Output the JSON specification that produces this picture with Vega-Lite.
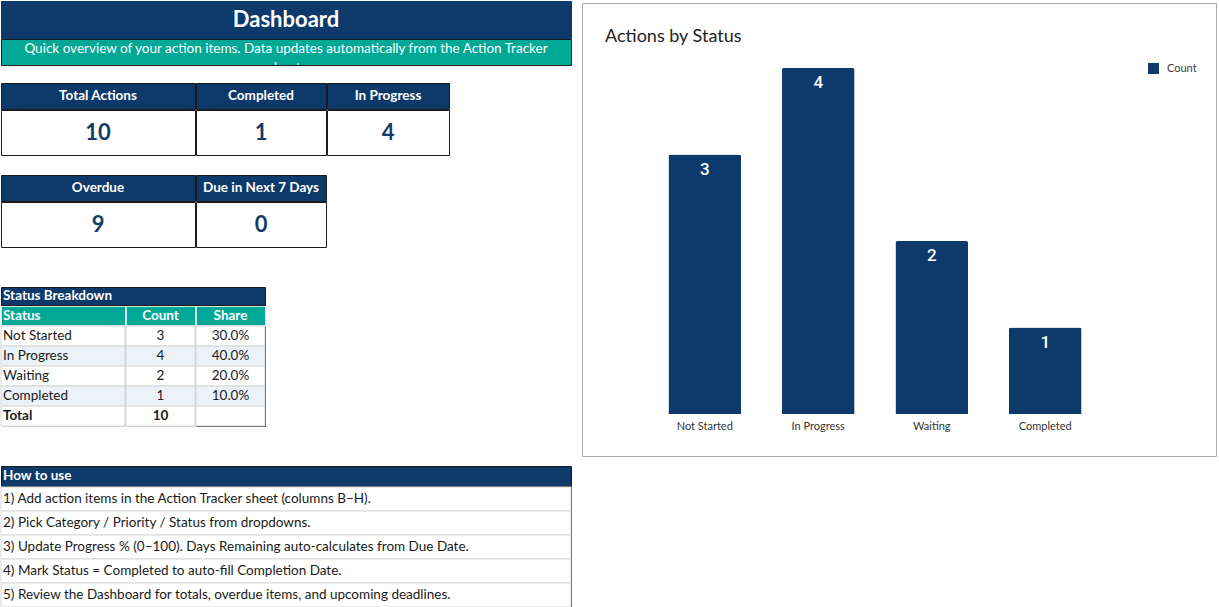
{
  "$schema": "https://vega.github.io/schema/vega-lite/v6.json",
  "padding": 0,
  "background": "white",
  "config": {"font": "Lato", "view": {"stroke": "transparent"}, "text": {"font": "Lato"}},
  "datasets": {
    "banner": [{"title": "Dashboard", "subtitle": "Quick overview of your action items. Data updates automatically from the Action Tracker\nsheet."}],
    "kpi": [
      {"metric": "Total Actions", "value": 10},
      {"metric": "Completed", "value": 1},
      {"metric": "In Progress", "value": 4},
      {"metric": "Overdue", "value": 9},
      {"metric": "Due in Next 7 Days", "value": 0}
    ],
    "breakdown": [
      {"section": "Status Breakdown", "status": "Not Started", "count": 3, "share": 0.3},
      {"section": "Status Breakdown", "status": "In Progress", "count": 4, "share": 0.4},
      {"section": "Status Breakdown", "status": "Waiting", "count": 2, "share": 0.2},
      {"section": "Status Breakdown", "status": "Completed", "count": 1, "share": 0.1},
      {"section": "Status Breakdown", "status": "Total", "count": 10, "share": null}
    ],
    "columns": [{"column": "Status"}, {"column": "Count"}, {"column": "Share"}],
    "howto": [
      {"section": "How to use", "step": "1) Add action items in the Action Tracker sheet (columns B–H)."},
      {"section": "How to use", "step": "2) Pick Category / Priority / Status from dropdowns."},
      {"section": "How to use", "step": "3) Update Progress % (0–100). Days Remaining auto-calculates from Due Date."},
      {"section": "How to use", "step": "4) Mark Status = Completed to auto-fill Completion Date."},
      {"section": "How to use", "step": "5) Review the Dashboard for totals, overdue items, and upcoming deadlines."}
    ],
    "charttitle": [{"title": "Actions by Status"}]
  },
  "spacing": 9,
  "hconcat": [
    {
      "spacing": -2,
      "vconcat": [
        {"width": 570, "height": 37, "view": {"fill": "#0E3A6B", "stroke": "#0E3A6B"}, "data": {"name": "banner"},
         "mark": {"type": "text", "color": "white", "fontSize": 22, "fontWeight": "bold"},
         "encoding": {"text": {"field": "title", "type": "nominal"}}},
        {"width": 570, "height": 26, "view": {"fill": "#00A896", "stroke": "#1a1a1a"}, "data": {"name": "banner"},
         "mark": {"type": "text", "color": "white", "fontSize": 13.5, "lineBreak": "\n", "lineHeight": 19, "dy": -3, "clip": true},
         "encoding": {"text": {"field": "subtitle", "type": "nominal"}}},
        {"width": 570, "height": 17, "data": {"values": []}, "mark": "text"},
        {"spacing": -2, "hconcat": [
          {"width": 194, "height": 26, "view": {"fill": "#0E3A6B", "stroke": "#1a1a1a"}, "data": {"name": "kpi"}, "transform": [{"filter": {"field": "metric", "equal": "Total Actions"}}],
           "mark": {"type": "text", "color": "white", "fontSize": 13.5, "fontWeight": "bold"}, "encoding": {"text": {"field": "metric", "type": "nominal"}}},
          {"width": 130, "height": 26, "view": {"fill": "#0E3A6B", "stroke": "#1a1a1a"}, "data": {"name": "kpi"}, "transform": [{"filter": {"field": "metric", "equal": "Completed"}}],
           "mark": {"type": "text", "color": "white", "fontSize": 13.5, "fontWeight": "bold"}, "encoding": {"text": {"field": "metric", "type": "nominal"}}},
          {"width": 122, "height": 26, "view": {"fill": "#0E3A6B", "stroke": "#1a1a1a"}, "data": {"name": "kpi"}, "transform": [{"filter": {"field": "metric", "equal": "In Progress"}}],
           "mark": {"type": "text", "color": "white", "fontSize": 13.5, "fontWeight": "bold"}, "encoding": {"text": {"field": "metric", "type": "nominal"}}}
        ]},
        {"spacing": -2, "hconcat": [
          {"width": 194, "height": 45, "view": {"fill": "white", "stroke": "#1a1a1a"}, "data": {"name": "kpi"}, "transform": [{"filter": {"field": "metric", "equal": "Total Actions"}}],
           "mark": {"type": "text", "color": "#143C68", "fontSize": 22, "fontWeight": "bold"}, "encoding": {"text": {"field": "value", "type": "quantitative"}}},
          {"width": 130, "height": 45, "view": {"fill": "white", "stroke": "#1a1a1a"}, "data": {"name": "kpi"}, "transform": [{"filter": {"field": "metric", "equal": "Completed"}}],
           "mark": {"type": "text", "color": "#143C68", "fontSize": 22, "fontWeight": "bold"}, "encoding": {"text": {"field": "value", "type": "quantitative"}}},
          {"width": 122, "height": 45, "view": {"fill": "white", "stroke": "#1a1a1a"}, "data": {"name": "kpi"}, "transform": [{"filter": {"field": "metric", "equal": "In Progress"}}],
           "mark": {"type": "text", "color": "#143C68", "fontSize": 22, "fontWeight": "bold"}, "encoding": {"text": {"field": "value", "type": "quantitative"}}}
        ]},
        {"width": 570, "height": 19, "data": {"values": []}, "mark": "text"},
        {"spacing": -2, "hconcat": [
          {"width": 194, "height": 26, "view": {"fill": "#0E3A6B", "stroke": "#1a1a1a"}, "data": {"name": "kpi"}, "transform": [{"filter": {"field": "metric", "equal": "Overdue"}}],
           "mark": {"type": "text", "color": "white", "fontSize": 13.5, "fontWeight": "bold"}, "encoding": {"text": {"field": "metric", "type": "nominal"}}},
          {"width": 130, "height": 26, "view": {"fill": "#0E3A6B", "stroke": "#1a1a1a"}, "data": {"name": "kpi"}, "transform": [{"filter": {"field": "metric", "equal": "Due in Next 7 Days"}}],
           "mark": {"type": "text", "color": "white", "fontSize": 13.5, "fontWeight": "bold"}, "encoding": {"text": {"field": "metric", "type": "nominal"}}}
        ]},
        {"spacing": -2, "hconcat": [
          {"width": 194, "height": 45, "view": {"fill": "white", "stroke": "#1a1a1a"}, "data": {"name": "kpi"}, "transform": [{"filter": {"field": "metric", "equal": "Overdue"}}],
           "mark": {"type": "text", "color": "#143C68", "fontSize": 22, "fontWeight": "bold"}, "encoding": {"text": {"field": "value", "type": "quantitative"}}},
          {"width": 130, "height": 45, "view": {"fill": "white", "stroke": "#1a1a1a"}, "data": {"name": "kpi"}, "transform": [{"filter": {"field": "metric", "equal": "Due in Next 7 Days"}}],
           "mark": {"type": "text", "color": "#143C68", "fontSize": 22, "fontWeight": "bold"}, "encoding": {"text": {"field": "value", "type": "quantitative"}}}
        ]},
        {"width": 570, "height": 39, "data": {"values": []}, "mark": "text"},
        {"width": 264, "height": 18, "view": {"fill": "#0E3A6B", "stroke": "#1a1a1a"}, "data": {"name": "breakdown"},
         "transform": [{"aggregate": [], "groupby": ["section"]}],
         "mark": {"type": "text", "align": "left", "dx": 2, "color": "white", "fontSize": 13.5, "fontWeight": "bold"},
         "encoding": {"text": {"field": "section", "type": "nominal"},
                      "x": {"field": "section", "type": "nominal", "bandPosition": 0, "axis": null, "scale": {"type": "band", "paddingInner": 0, "paddingOuter": 0}}}},
        {"spacing": -2, "hconcat": [
          {"width": 124, "height": 19, "view": {"fill": "#00A896", "stroke": "#cfe9e6"}, "data": {"name": "columns"}, "transform": [{"filter": {"field": "column", "equal": "Status"}}],
           "mark": {"type": "text", "align": "left", "dx": 2, "color": "white", "fontSize": 13.5, "fontWeight": "bold"},
           "encoding": {"text": {"field": "column", "type": "nominal"},
                        "x": {"field": "column", "type": "nominal", "bandPosition": 0, "axis": null, "scale": {"type": "band", "paddingInner": 0, "paddingOuter": 0}}}},
          {"width": 69, "height": 19, "view": {"fill": "#00A896", "stroke": "#cfe9e6"}, "data": {"name": "columns"}, "transform": [{"filter": {"field": "column", "equal": "Count"}}],
           "mark": {"type": "text", "color": "white", "fontSize": 13.5, "fontWeight": "bold"},
           "encoding": {"text": {"field": "column", "type": "nominal"}}},
          {"width": 69, "height": 19, "view": {"fill": "#00A896", "stroke": "#cfe9e6"}, "data": {"name": "columns"}, "transform": [{"filter": {"field": "column", "equal": "Share"}}],
           "mark": {"type": "text", "color": "white", "fontSize": 13.5, "fontWeight": "bold"},
           "encoding": {"text": {"field": "column", "type": "nominal"}}}
        ]},
        {"spacing": -2, "hconcat": [
          {"width": 124, "height": 100, "view": {"stroke": "#d6d6d6"}, "data": {"name": "breakdown"},
           "encoding": {"y": {"field": "status", "type": "nominal", "sort": ["Not Started", "In Progress", "Waiting", "Completed", "Total"], "axis": null, "scale": {"type": "band", "paddingInner": 0, "paddingOuter": 0}}},
           "layer": [
             {"mark": {"type": "rect", "stroke": "#d6d6d6", "strokeWidth": 1},
              "encoding": {"fill": {"condition": {"test": "datum.status === 'In Progress' || datum.status === 'Completed'", "value": "#EDF2F8"}, "value": "white"}}},
             {"transform": [{"filter": "datum.status !== 'Total'"}],
              "mark": {"type": "text", "align": "left", "dx": 2, "fontSize": 13.5, "color": "#1a1a1a"},
              "encoding": {"text": {"field": "status", "type": "nominal"},
                           "x": {"field": "section", "type": "nominal", "bandPosition": 0, "axis": null, "scale": {"type": "band", "paddingInner": 0, "paddingOuter": 0}}}},
             {"transform": [{"filter": "datum.status === 'Total'"}],
              "mark": {"type": "text", "align": "left", "dx": 2, "fontSize": 13.5, "fontWeight": "bold", "color": "#1a1a1a"},
              "encoding": {"text": {"field": "status", "type": "nominal"},
                           "x": {"field": "section", "type": "nominal", "bandPosition": 0, "axis": null, "scale": {"type": "band", "paddingInner": 0, "paddingOuter": 0}}}}
           ]},
          {"width": 69, "height": 100, "view": {"stroke": "#d6d6d6"}, "data": {"name": "breakdown"},
           "encoding": {"y": {"field": "status", "type": "nominal", "sort": ["Not Started", "In Progress", "Waiting", "Completed", "Total"], "axis": null, "scale": {"type": "band", "paddingInner": 0, "paddingOuter": 0}}},
           "layer": [
             {"mark": {"type": "rect", "stroke": "#d6d6d6", "strokeWidth": 1},
              "encoding": {"fill": {"condition": {"test": "datum.status === 'In Progress' || datum.status === 'Completed'", "value": "#EDF2F8"}, "value": "white"}}},
             {"transform": [{"filter": "datum.status !== 'Total'"}],
              "mark": {"type": "text", "fontSize": 13.5, "color": "#1a1a1a"},
              "encoding": {"text": {"field": "count", "type": "quantitative"}}},
             {"transform": [{"filter": "datum.status === 'Total'"}],
              "mark": {"type": "text", "fontSize": 13.5, "fontWeight": "bold", "color": "#1a1a1a"},
              "encoding": {"text": {"field": "count", "type": "quantitative"}}}
           ]},
          {"width": 69, "height": 100, "view": {"stroke": "#1a1a1a"}, "data": {"name": "breakdown"},
           "encoding": {"y": {"field": "status", "type": "nominal", "sort": ["Not Started", "In Progress", "Waiting", "Completed", "Total"], "axis": null, "scale": {"type": "band", "paddingInner": 0, "paddingOuter": 0}}},
           "layer": [
             {"mark": {"type": "rect", "stroke": "#d6d6d6", "strokeWidth": 1},
              "encoding": {"fill": {"condition": {"test": "datum.status === 'In Progress' || datum.status === 'Completed'", "value": "#EDF2F8"}, "value": "white"}}},
             {"transform": [{"filter": "datum.status !== 'Total'"}],
              "mark": {"type": "text", "fontSize": 13.5, "color": "#1a1a1a"},
              "encoding": {"text": {"field": "share", "type": "quantitative", "format": ".1%"}}}
           ]}
        ]},
        {"width": 570, "height": 39, "data": {"values": []}, "mark": "text"},
        {"width": 570, "height": 20, "view": {"fill": "#0E3A6B", "stroke": "#1a1a1a"}, "data": {"name": "howto"},
         "transform": [{"aggregate": [], "groupby": ["section"]}],
         "mark": {"type": "text", "align": "left", "dx": 2, "color": "white", "fontSize": 13.5, "fontWeight": "bold"},
         "encoding": {"text": {"field": "section", "type": "nominal"},
                      "x": {"field": "section", "type": "nominal", "bandPosition": 0, "axis": null, "scale": {"type": "band", "paddingInner": 0, "paddingOuter": 0}}}},
        {"width": 570, "height": 120, "view": {"fill": "white", "stroke": "#1a1a1a"}, "data": {"name": "howto"},
         "encoding": {"y": {"field": "step", "type": "nominal", "sort": null, "axis": null, "scale": {"type": "band", "paddingInner": 0, "paddingOuter": 0}}},
         "layer": [
           {"mark": {"type": "rect", "fill": "white", "stroke": "#d6d6d6", "strokeWidth": 1}},
           {"mark": {"type": "text", "align": "left", "dx": 2, "fontSize": 13.5, "color": "#1a1a1a"},
            "encoding": {"text": {"field": "step", "type": "nominal"},
                         "x": {"field": "section", "type": "nominal", "bandPosition": 0, "axis": null, "scale": {"type": "band", "paddingInner": 0, "paddingOuter": 0}}}}
         ]}
      ]
    },
    {
      "spacing": -2,
      "vconcat": [
        {"width": 634, "height": 2, "data": {"values": []}, "mark": "text"},
        {
          "width": 634,
          "height": 453,
          "view": {"fill": "white", "stroke": "#ababab", "strokeWidth": 1},
          "resolve": {"scale": {"x": "independent", "y": "independent"}},
          "layer": [
            {
              "data": {"name": "breakdown"},
              "transform": [{"filter": "datum.status !== 'Total'"}],
              "encoding": {
                "x": {"field": "status", "type": "nominal", "sort": null, "axis": null,
                      "scale": {"type": "band", "range": [66, 520], "paddingInner": 0.36, "paddingOuter": 0.18}},
                "y": {"field": "count", "type": "quantitative", "axis": null, "scale": {"domain": [0, 4], "range": [411, 65]}}
              },
              "layer": [
                {"mark": {"type": "bar", "cornerRadiusEnd": 2},
                 "encoding": {"color": {"datum": "Count", "type": "nominal", "scale": {"range": ["#0E3A6B"]},
                   "legend": {"orient": "none", "legendX": 1147, "legendY": 62, "title": null, "symbolType": "square", "symbolSize": 121,
                              "symbolStrokeWidth": 0, "labelFontSize": 11, "labelColor": "#404040", "labelOffset": 8, "padding": 0}}}},
                {"mark": {"type": "text", "baseline": "middle", "dy": 15, "color": "white", "fontSize": 17, "font": "Roboto", "fontWeight": 500},
                 "encoding": {"text": {"field": "count", "type": "quantitative"}}},
                {"mark": {"type": "text", "baseline": "middle", "dy": 13, "color": "#333333", "fontSize": 11},
                 "encoding": {"text": {"field": "status", "type": "nominal"}, "y": {"datum": 0}}}
              ]
            },
            {
              "data": {"name": "charttitle"},
              "mark": {"type": "text", "align": "left", "baseline": "middle", "dx": 23, "dy": 34, "fontSize": 18, "color": "#222222"},
              "encoding": {
                "text": {"field": "title", "type": "nominal"},
                "x": {"field": "title", "type": "nominal", "bandPosition": 0, "axis": null, "scale": {"type": "band", "paddingInner": 0, "paddingOuter": 0}},
                "y": {"field": "title", "type": "nominal", "bandPosition": 0, "axis": null, "scale": {"type": "band", "paddingInner": 0, "paddingOuter": 0}}
              }
            }
          ]
        }
      ]
    }
  ]
}
